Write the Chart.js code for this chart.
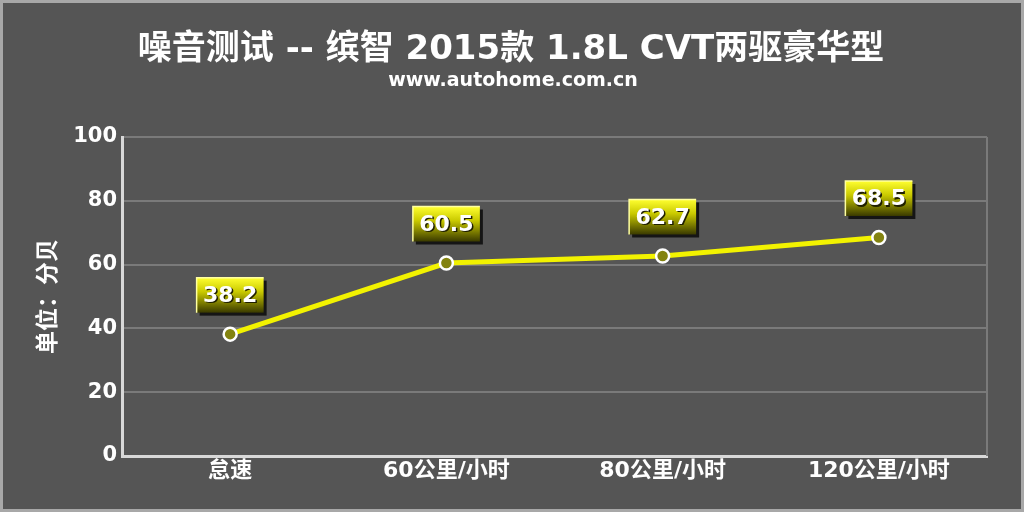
<!DOCTYPE html>
<html>
<head>
<meta charset="utf-8">
<script src="https://cdn.jsdelivr.net/npm/chart.js@4"></script>
<style>
  body { margin: 0; background: #555555; }
  #wrap { position: relative; width: 1024px; height: 512px; background: #555555; }
  #frame { position: absolute; left: 0; top: 0; width: 1024px; height: 512px; box-sizing: border-box;
           border: 3px solid #a8a8a8; pointer-events: none; }
</style>
</head>
<body>
<div id="wrap">
  <canvas id="myChart" width="1024" height="512"></canvas>
  <div id="frame"></div>
</div>
<script>
// chart data
const categories = ["怠速", "60公里/小时", "80公里/小时", "120公里/小时"];
const noiseValues = [38.2, 60.5, 62.7, 68.5];
const yTicks = [0, 20, 40, 60, 80, 100];

const mainTitle = "噪音测试 -- 缤智 2015款 1.8L CVT两驱豪华型";
const subTitle = "www.autohome.com.cn";
const yTitle = "单位：分贝";

const FONT = "'DejaVu Sans', 'Noto Sans CJK SC', sans-serif";

// draws the title lines at top of canvas
const titlePlugin = {
  id: "topTitles",
  afterDraw(chart) {
    const ctx = chart.ctx;
    ctx.save();
    ctx.fillStyle = "#ffffff";
    ctx.textAlign = "center";
    ctx.textBaseline = "middle";
    ctx.font = "bold 34px " + FONT;
    ctx.fillText(mainTitle, 511, 50);
    ctx.font = "bold 19px " + FONT;
    ctx.fillText(subTitle, 513, 81);
    ctx.restore();
  }
};

// yellow value boxes above each point
const valueBoxPlugin = {
  id: "valueBoxes",
  afterDatasetsDraw(chart) {
    const ctx = chart.ctx;
    const meta = chart.getDatasetMeta(0);
    meta.data.forEach((pt, i) => {
      const w = 67, h = 35;
      const x = pt.x - w / 2;
      const y = pt.y - 39 - h / 2;
      ctx.save();
      // drop shadow
      ctx.fillStyle = "#151515";
      ctx.fillRect(x + 3, y + 3, w, h);
      const g = ctx.createLinearGradient(0, y, 0, y + h);
      g.addColorStop(0, "#ffff30");
      g.addColorStop(0.4, "#caca00");
      g.addColorStop(1, "#3a3a00");
      ctx.fillStyle = g;
      ctx.fillRect(x, y, w, h);
      ctx.strokeStyle = "#ffffa0";
      ctx.lineWidth = 1.5;
      ctx.beginPath();
      ctx.moveTo(x, y + h);
      ctx.lineTo(x, y);
      ctx.lineTo(x + w, y);
      ctx.stroke();
      ctx.font = "bold 22px " + FONT;
      ctx.textAlign = "center";
      ctx.textBaseline = "middle";
      ctx.fillStyle = "#202000";
      ctx.fillText(noiseValues[i].toFixed(1), pt.x + 1.5, y + h / 2 + 2.5);
      ctx.fillStyle = "#ffffff";
      ctx.fillText(noiseValues[i].toFixed(1), pt.x, y + h / 2 + 1);
      ctx.restore();
    });
  }
};

// right border line of plot
const rightEdgePlugin = {
  id: "rightEdge",
  beforeDatasetsDraw(chart) {
    const a = chart.chartArea;
    const ctx = chart.ctx;
    ctx.save();
    ctx.strokeStyle = "#7a7a7a";
    ctx.lineWidth = 2;
    ctx.beginPath();
    ctx.moveTo(a.right, a.top);
    ctx.lineTo(a.right, a.bottom);
    ctx.stroke();
    ctx.restore();
  }
};

new Chart("myChart", {
  type: "line",
  data: {
    labels: categories,
    datasets: [{
      data: noiseValues,
      borderColor: "#f2f200",
      borderWidth: 5,
      pointBackgroundColor: "#838310",
      pointBorderColor: "#ffffff",
      pointBorderWidth: 2.5,
      pointRadius: 6.5,
      tension: 0
    }]
  },
  options: {
    responsive: false,
    animation: false,
    layout: { padding: { top: 137, right: 37, bottom: 0, left: 0 } },
    plugins: {
      legend: { display: false },
      tooltip: { enabled: false }
    },
    scales: {
      x: {
        offset: true,
        grid: { display: false, drawTicks: false },
        border: { display: true, color: "#d8d8d8", width: 3 },
        ticks: {
          color: "#ffffff",
          padding: 2,
          font: { family: FONT, size: 22, weight: "bold" }
        },
        afterFit(scale) { scale.height = 56; }
      },
      y: {
        min: 0,
        max: 100,
        afterBuildTicks(scale) { scale.ticks = yTicks.map(v => ({ value: v })); },
        grid: { color: "#7a7a7a", lineWidth: 2, drawTicks: false },
        border: { display: true, color: "#d8d8d8", width: 3 },
        ticks: {
          color: "#ffffff",
          padding: 5,
          font: { family: FONT, size: 21, weight: "bold" }
        },
        title: {
          display: true,
          text: yTitle,
          color: "#ffffff",
          padding: { top: 35, bottom: 0 },
          font: { family: FONT, size: 23, weight: "bold" }
        },
        afterFit(scale) { scale.width = 122; }
      }
    }
  },
  plugins: [titlePlugin, valueBoxPlugin, rightEdgePlugin]
});
</script>
</body>
</html>
